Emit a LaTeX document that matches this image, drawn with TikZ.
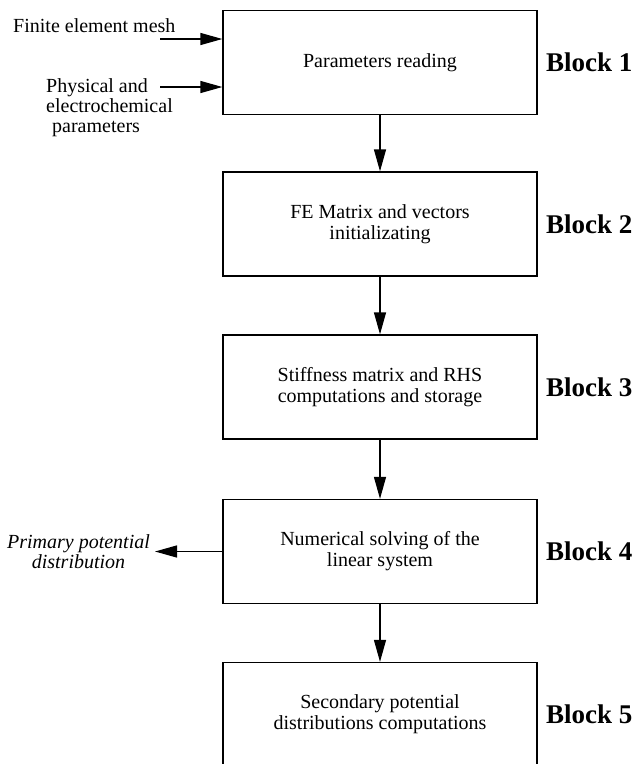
\documentclass[tikz,border=0pt]{standalone}
\usepackage{fontspec}
\setmainfont{Liberation Serif}
\usetikzlibrary{arrows.meta}
\begin{document}
\begin{tikzpicture}[x=1pt,y=-1pt,
  blockbox/.style={draw, line width=1.3pt, minimum width=314pt, minimum height=104pt,
    inner sep=0pt, align=center, font=\fontsize{20}{21}\selectfont},
  arr/.style={line width=1.3pt, -{Triangle[length=22pt,width=12pt]}},
  lbl/.style={anchor=west, inner sep=0pt, font=\fontsize{27}{30}\selectfont\bfseries},
  side/.style={inner sep=0pt, font=\fontsize{20}{20}\selectfont}]
\useasboundingbox (0,0) rectangle (638,764);
% boxes
\node[blockbox] (b1) at (380,62.5) {Parameters reading};
\node[blockbox] (b2) at (380,224) {FE Matrix and vectors\\initializating};
\node[blockbox] (b3) at (380,387) {Stiffness matrix and RHS\\computations and storage};
\node[blockbox] (b4) at (380,551.5) {Numerical solving of the\\linear system};
\node[blockbox] (b5) at (380,714.5) {Secondary potential\\distributions computations};
% block labels
\node[lbl] (l1) at (546,62.5) {Block 1};
\node[lbl] (l2) at (546,224) {Block 2};
\node[lbl] (l3) at (546,387) {Block 3};
\node[lbl] (l4) at (546,551.5) {Block 4};
\node[lbl] (l5) at (546,714.5) {Block 5};
% side texts
\node[side, anchor=base west] (mesh) at (13,32.5) {Finite element mesh};
\node[side, anchor=north west, align=left] (phys) at (46,78) {Physical and\\electrochemical\\\hspace{6pt}parameters};
\node[side, align=center, font=\fontsize{20}{20}\selectfont\itshape] (prim) at (78.5,552) {Primary potential\\distribution};
% connectors
\coordinate (meshin) at (160,39);
\coordinate (physin) at (160,87);
\coordinate (primout) at (155,551.5);
\draw[arr] (meshin) -- (meshin -| b1.west);
\draw[arr] (physin) -- (physin -| b1.west);
\draw[arr] (b4.west) -- (primout);
\draw[arr] (b1.south) -- (b2.north);
\draw[arr] (b2.south) -- (b3.north);
\draw[arr] (b3.south) -- (b4.north);
\draw[arr] (b4.south) -- (b5.north);
\end{tikzpicture}
\end{document}
